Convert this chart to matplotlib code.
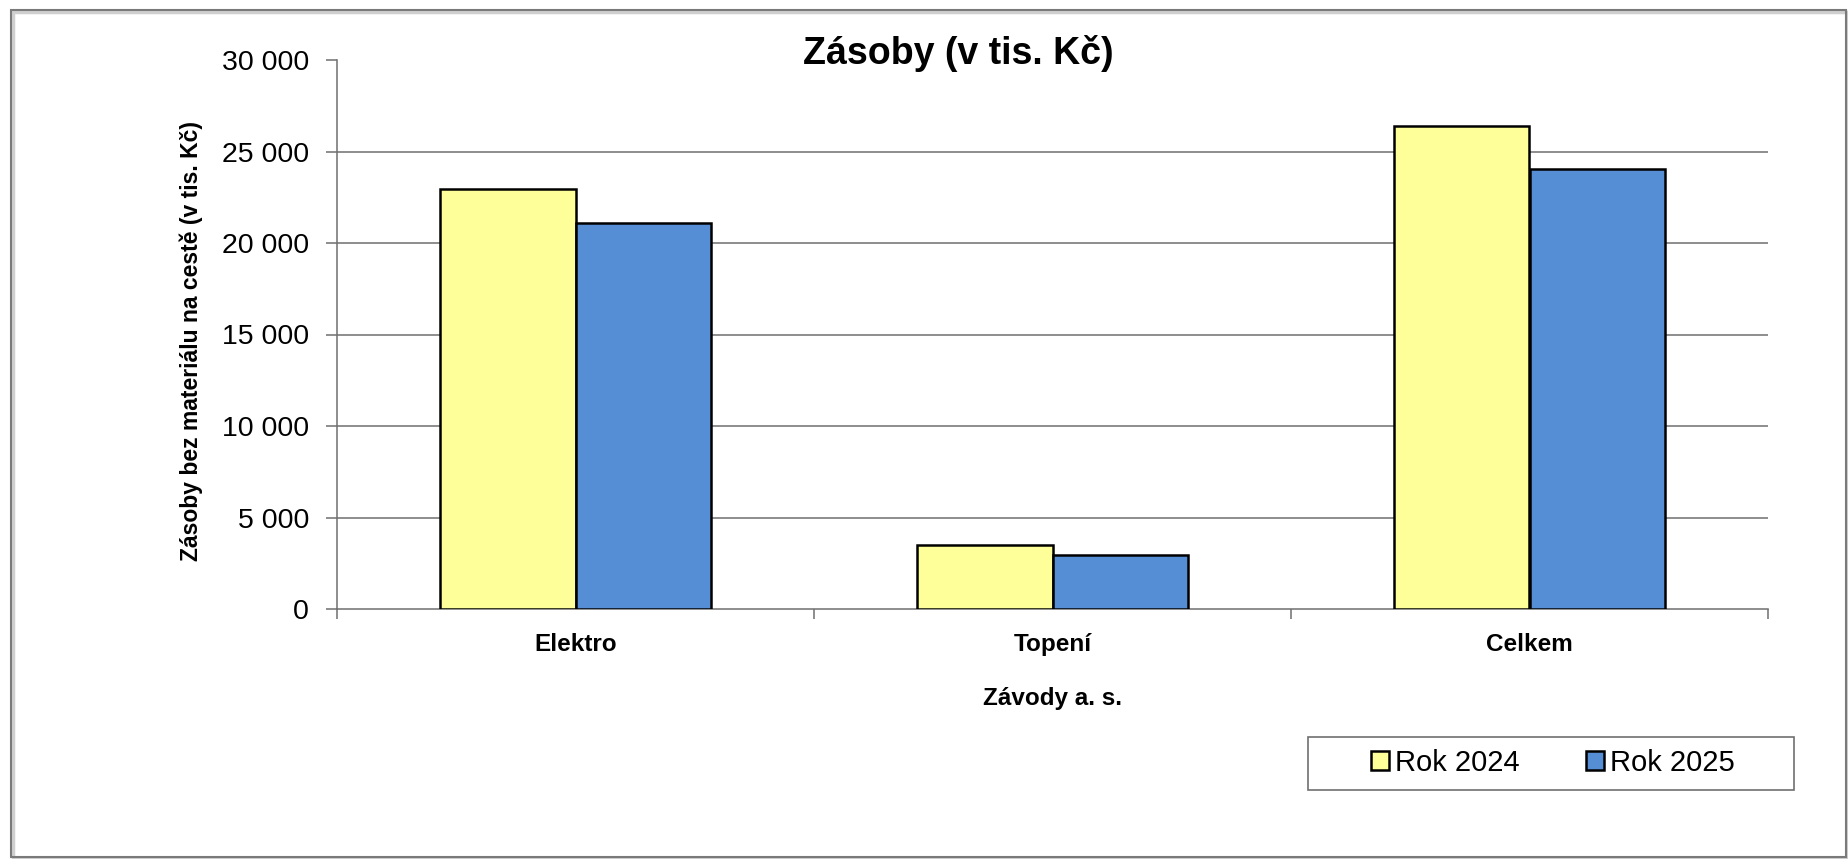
import matplotlib
matplotlib.use('Agg')
import matplotlib.pyplot as plt
from matplotlib.patches import Rectangle
from matplotlib.ticker import FuncFormatter, FixedLocator
import numpy as np

plt.rcParams['font.family'] = ['Liberation Sans', 'DejaVu Sans']

categories = ['Elektro', 'Topení', 'Celkem']
series = ['Rok 2024', 'Rok 2025']
rok_2024 = [22950, 3470, 26420]
rok_2025 = [21080, 2960, 24040]
y_ticks = [0, 5000, 10000, 15000, 20000, 25000, 30000]

W, H = 1848, 859
fig = plt.figure(figsize=(W / 100, H / 100), dpi=100)
ax = fig.add_axes([337 / W, 1 - 609 / H, (1768 - 337) / W, (609 - 60) / H])

x = np.arange(len(categories))
bw = 0.285
ax.bar(x - bw / 2, rok_2024, bw, color='#FFFF99', edgecolor='black', linewidth=1.8,
       label=series[0], zorder=3)
ax.bar(x + bw / 2, rok_2025, bw, color='#558ED5', edgecolor='black', linewidth=1.8,
       label=series[1], zorder=3)

ax.set_xlim(-0.5, 2.5)
ax.set_ylim(0, 30000)
ax.set_yticks(y_ticks)
ax.yaxis.set_major_formatter(FuncFormatter(lambda v, p: f'{int(v):,}'.replace(',', ' ')))
for t in y_ticks[1:-1]:
    ax.axhline(t, color='#6f6f6f', linewidth=1.1, zorder=1)

ax.set_xticks(x)
ax.set_xticklabels(categories, fontsize=17.5, fontweight='bold')
ax.xaxis.set_minor_locator(FixedLocator([-0.5, 0.5, 1.5, 2.5]))
ax.tick_params(axis='x', which='major', length=0, pad=17)
ax.tick_params(axis='x', which='minor', length=7, color='#6f6f6f', width=1.1)
ax.tick_params(axis='y', length=8, color='#6f6f6f', width=1.1, pad=12, labelsize=20.5)

for s in ['top', 'right']:
    ax.spines[s].set_visible(False)
for s in ['left', 'bottom']:
    ax.spines[s].set_color('#6f6f6f')
    ax.spines[s].set_linewidth(1.1)

ax.set_xlabel('Závody a. s.', fontsize=17.5, fontweight='bold')
ax.xaxis.set_label_coords(0.5, (609 - 698) / 549)
ax.xaxis.label.set_va('center')
ax.set_ylabel('Zásoby bez materiálu na cestě (v tis. Kč)', fontsize=16.5, fontweight='bold')
ax.yaxis.set_label_coords((191 - 337) / 1431, (609 - 341) / 549)
ax.yaxis.label.set_va('center')

fig.text(958 / W, 1 - 54 / H, 'Zásoby (v tis. Kč)', fontsize=27, fontweight='bold',
         ha='center', va='center')

# legend box and entries
fig.patches.append(Rectangle((1308 / W, 1 - 790 / H), (1794 - 1308) / W, (790 - 737) / H,
                             transform=fig.transFigure, facecolor='white',
                             edgecolor='#6f6f6f', linewidth=1.2))
fig.legend(loc='center', bbox_to_anchor=(1553 / W, 1 - 763 / H), ncol=2, frameon=False,
           fontsize=21, handlelength=0.6, handleheight=0.6, handletextpad=0.2,
           columnspacing=2.3, borderpad=0)

# outer chart frame with a light shadow
fig.patches.append(Rectangle((13 / W, 1 - 859 / H), (1848 - 13) / W, (859 - 12) / H,
                             transform=fig.transFigure, facecolor='none',
                             edgecolor='#cfcfcf', linewidth=2.5))
fig.patches.append(Rectangle((11 / W, 1 - 857 / H), (1846 - 11) / W, (857 - 10) / H,
                             transform=fig.transFigure, facecolor='none',
                             edgecolor='#7a7a7a', linewidth=1.5))

fig.savefig('out.png', dpi=100)
